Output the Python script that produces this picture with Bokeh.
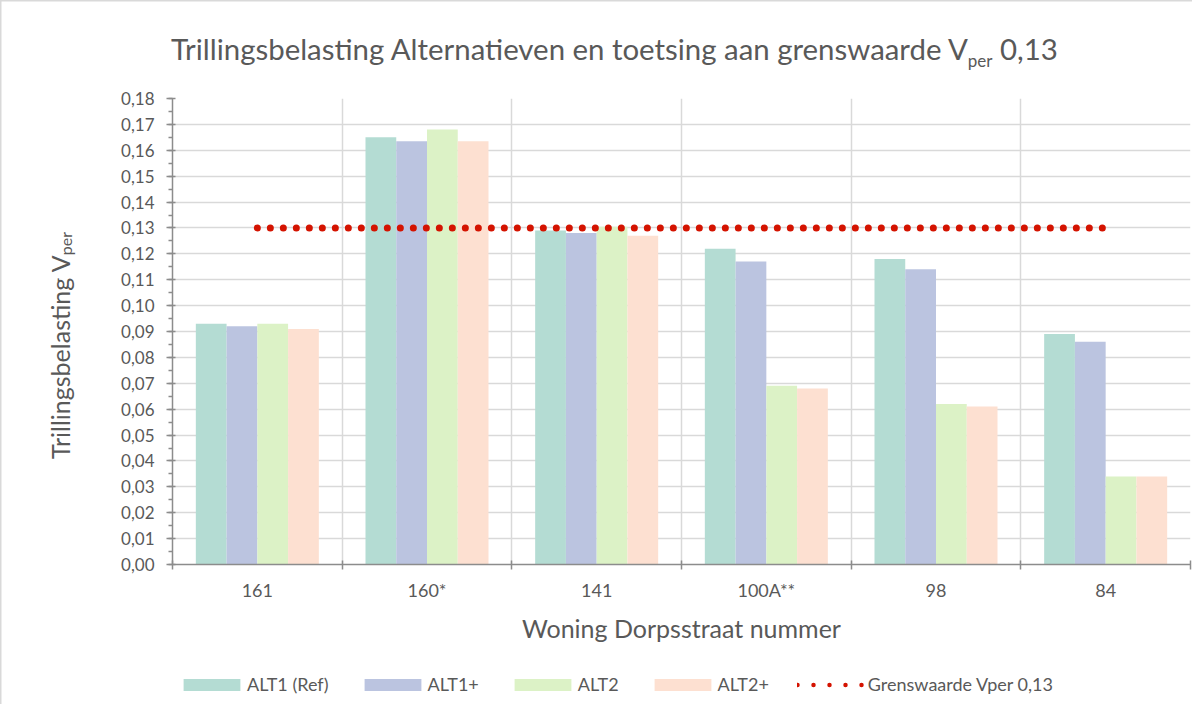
import numpy as np
from bokeh.plotting import figure
from bokeh.layouts import column, row
from bokeh.models import (FixedTicker, SingleIntervalTicker, CustomJSTickFormatter,
                          Range1d, Legend, LegendItem, Div)
from bokeh.embed import file_html
from bokeh.resources import INLINE

# ---------------- data ----------------
categories = ["161", "160*", "141", "100A**", "98", "84"]
series_names = ["ALT1 (Ref)", "ALT1+", "ALT2", "ALT2+"]
alt1_ref = [0.093, 0.165, 0.129, 0.122, 0.118, 0.089]
alt1_plus = [0.092, 0.1635, 0.128, 0.117, 0.114, 0.086]
alt2 = [0.093, 0.168, 0.1305, 0.069, 0.062, 0.034]
alt2_plus = [0.091, 0.1635, 0.127, 0.068, 0.061, 0.034]
limit_value = 0.13
limit_label = "Grenswaarde Vper 0,13"
title_main = "Trillingsbelasting Alternatieven en toetsing aan grenswaarde V"
title_sub = "per"
title_end = "0,13"
ylabel_main = "Trillingsbelasting V"
ylabel_sub = "per"
xlabel = "Woning Dorpsstraat nummer"
y_max = 0.18
y_step = 0.01

# ---------------- style ----------------
colors = ["#B4DCD3", "#BBC4E0", "#DCF2C6", "#FDE0D1"]
red = "#D41300"
grey_text = "#595959"
axis_grey = "#8C8C8C"
grid_grey = "#D9D9D9"
FONT = "Lato"

values = [alt1_ref, alt1_plus, alt2, alt2_plus]
n = len(categories)
idx = np.arange(n)
group_frac = 0.725
bw = group_frac / len(values)
offsets = [(j - (len(values) - 1) / 2) * bw for j in range(len(values))]

# ---------------- main chart ----------------
p = figure(frame_width=1018, frame_height=466, output_backend="svg", toolbar_location=None,
           x_range=Range1d(-0.5, n - 0.5), y_range=Range1d(0, y_max),
           min_border_left=71, min_border_right=2, min_border_top=12,
           min_border_bottom=90)
p.outline_line_color = None
p.background_fill_color = "white"
p.border_fill_color = "white"

for vals, off, col in zip(values, offsets, colors):
    p.vbar(x=idx + off, top=vals, width=bw, bottom=0, fill_color=col, line_color=None)

p.line(x=[idx[0], idx[-1]], y=[limit_value, limit_value], line_color=red,
       line_width=7, line_dash="0 13", line_cap="round")

# x axis
xax = p.xaxis[0]
xax.ticker = FixedTicker(ticks=list(idx), minor_ticks=list(np.arange(n + 1) - 0.5))
xax.major_label_overrides = {int(i): c for i, c in zip(idx, categories)}
xax.major_tick_line_color = None
xax.major_tick_out = 0
xax.major_tick_in = 0
xax.minor_tick_line_color = axis_grey
xax.minor_tick_line_width = 1.5
xax.minor_tick_in = 4
xax.minor_tick_out = 5
xax.axis_line_color = axis_grey
xax.axis_line_width = 1.5
xax.major_label_standoff = 9
xax.major_label_text_font = FONT
xax.major_label_text_font_size = "18px"
xax.major_label_text_color = grey_text
xax.axis_label = xlabel
xax.axis_label_text_font = FONT
xax.axis_label_text_font_size = "25px"
xax.axis_label_text_font_style = "normal"
xax.axis_label_text_color = grey_text
xax.axis_label_standoff = 9

p.xgrid.grid_line_color = None
p.xgrid.minor_grid_line_color = grid_grey
p.xgrid.minor_grid_line_width = 1.5

# y axis
yax = p.yaxis[0]
yax.ticker = SingleIntervalTicker(interval=y_step, num_minor_ticks=2)
yax.formatter = CustomJSTickFormatter(code="return tick.toFixed(2).replace('.', ',');")
yax.axis_line_color = axis_grey
yax.axis_line_width = 1.5
yax.major_tick_line_color = axis_grey
yax.major_tick_line_width = 1.5
yax.major_tick_out = 6
yax.major_tick_in = 3
yax.minor_tick_line_color = axis_grey
yax.minor_tick_line_width = 1.5
yax.minor_tick_out = 4
yax.minor_tick_in = 0
yax.major_label_standoff = 12
yax.major_label_text_font = FONT
yax.major_label_text_font_size = "17px"
yax.major_label_text_color = grey_text
p.ygrid.grid_line_color = grid_grey
p.ygrid.grid_line_width = 1.5

# ---------------- legend strip (its own small plot, same data kept off-view) ----------------
lf = figure(width=1180, height=42, output_backend="svg", toolbar_location=None,
            x_range=Range1d(-0.5, n - 0.5), y_range=Range1d(10, 11),
            x_axis_type=None, y_axis_type=None,
            min_border_left=0, min_border_right=0, min_border_top=0, min_border_bottom=0)
lf.outline_line_color = None
lf.background_fill_color = None
lf.border_fill_color = None
items = []
for vals, off, col, name in zip(values, offsets, colors, series_names):
    r = lf.vbar(x=idx + off, top=vals, width=bw, bottom=0, fill_color=col, line_color=None)
    items.append(LegendItem(label=name, renderers=[r]))
rl = lf.line(x=[idx[0], idx[-1]], y=[limit_value, limit_value], line_color=red,
             line_width=4.5, line_dash="0 16", line_cap="round")
items.append(LegendItem(label=limit_label, renderers=[rl]))

lg = Legend(items=items, orientation="horizontal", location=(176, 11))
lg.background_fill_alpha = 0
lg.border_line_color = None
lg.padding = 0
lg.margin = 0
lg.spacing = 28
lg.glyph_width = 71
lg.glyph_height = 15
lg.label_standoff = 0
lg.label_height = 18
lg.label_text_font = FONT
lg.label_text_font_size = "18px"
lg.label_text_color = grey_text
lg.click_policy = "none"
lf.add_layout(lg)

# ---------------- title and y label (HTML, with subscripts) ----------------
title_html = (
    f'<div style="width:884px; margin-left:166px; padding-top:26px; text-align:center; '
    f'font-family:{FONT}; font-size:29.4px; line-height:1.2; color:{grey_text}; white-space:nowrap">'
    f'{title_main}<sub style="font-size:17px">{title_sub}</sub> {title_end}</div>'
)
title_div = Div(text=title_html, width=1180, height=76)

ylab_html = (
    f'<div style="width:91px; height:568px; box-sizing:border-box; padding-left:21px; '
    f'padding-bottom:59px; display:flex; align-items:center; justify-content:center;">'
    f'<div style="writing-mode:vertical-rl; transform:rotate(180deg); font-family:{FONT}; '
    f'font-size:25px; color:{grey_text}; white-space:nowrap">'
    f'{ylabel_main}<sub style="font-size:16px">{ylabel_sub}</sub></div></div>'
)
ylab_div = Div(text=ylab_html, width=91, height=568)

layout = column(title_div, row(ylab_div, p), lf,
                styles={"box-shadow": f"inset 1.5px 1.5px 0 0 {grid_grey}"})

open("out.html", "w").write(file_html(layout, INLINE))
